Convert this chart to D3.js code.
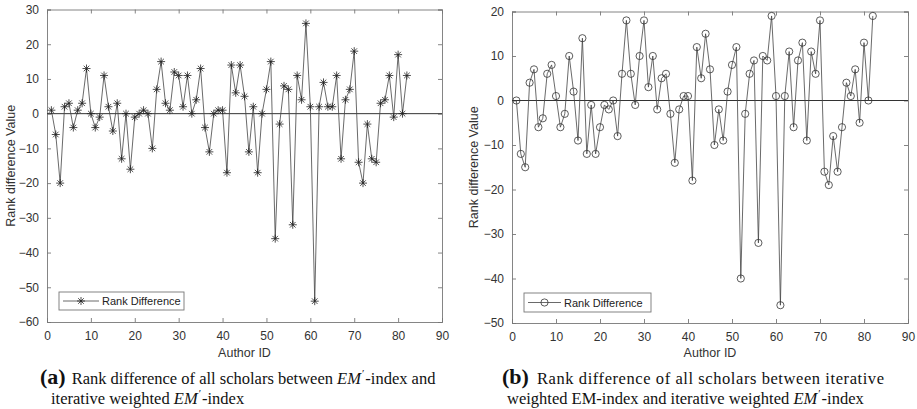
<!DOCTYPE html>
<html>
<head>
<meta charset="utf-8">
<script src="https://cdnjs.cloudflare.com/ajax/libs/d3/7.8.5/d3.min.js"></script>
<style>
  body { margin: 0; background: #fff; }
  svg { display: block; }
  .tick text { font-family: "Liberation Sans", Arial, sans-serif; font-size: 12px; fill: #333; }
  .cap { font-family: "Liberation Serif", "DejaVu Serif", serif; fill: #111; }
</style>
</head>
<body>
<svg id="chart" width="917" height="409"></svg>
<script>
// rank differences, panel (a): EM'-index vs iterative weighted EM'-index
var diffA = [1, -6, -20, 2, 3, -4, 1, 3, 13, 0,
  -4, -1, 11, 2, -5, 3, -13, 0, -16, -1,
  0, 1, 0, -10, 7, 15, 3, 1, 12, 11,
  2, 11, 0, 4, 13, -4, -11, 0, 1, 1,
  -17, 14, 6, 14, 5, -11, 2, -17, 0, 7,
  15, -36, -3, 8, 7, -32, 11, 4, 26, 2,
  -54, 2, 9, 2, 2, 11, -13, 4, 7, 18,
  -14, -20, -3, -13, -14, 3, 4, 11, -1, 17,
  0, 11];
// panel (b): iterative weighted EM-index vs iterative weighted EM'-index
var diffB = [0, -12, -15, 4, 7, -6, -4, 6, 8, 1,
  -6, -3, 10, 2, -9, 14, -12, -1, -12, -6,
  -1, -2, 0, -8, 6, 18, 6, -1, 10, 18,
  3, 10, -2, 5, 6, -3, -14, -2, 1, 1,
  -18, 12, 5, 15, 7, -10, -2, -9, 2, 8,
  12, -40, -3, 6, 9, -32, 10, 9, 19, 1,
  -46, 1, 11, -6, 9, 13, -9, 11, 6, 18,
  -16, -19, -8, -16, -6, 4, 1, 7, -5, 13,
  0, 19];
var xTicks = [0, 10, 20, 30, 40, 50, 60, 70, 80, 90];
var yTicksA = [30, 20, 10, 0, -10, -20, -30, -40, -50, -60];
var yTicksB = [20, 10, 0, -10, -20, -30, -40, -50];

var svg = d3.select("#chart");

function drawStar(g, cx, cy, s) {
  var d = "M" + (cx - s) + "," + cy + "H" + (cx + s) +
    "M" + cx + "," + (cy - s) + "V" + (cy + s) +
    "M" + (cx - s * 0.7) + "," + (cy - s * 0.7) + "L" + (cx + s * 0.7) + "," + (cy + s * 0.7) +
    "M" + (cx - s * 0.7) + "," + (cy + s * 0.7) + "L" + (cx + s * 0.7) + "," + (cy - s * 0.7);
  g.append("path").attr("d", d).attr("stroke", "#222").attr("stroke-width", 0.8).attr("fill", "none");
}

function drawPanel(p) {
  var x = d3.scaleLinear().domain([0, 90]).range([p.left, p.right]);
  var y = d3.scaleLinear().domain(p.ydom).range([p.bottom, p.top]);
  var g = svg.append("g");

  // axes (ticks inward, box on)
  g.append("g").attr("transform", "translate(0," + p.bottom + ")")
    .call(d3.axisBottom(x).tickValues(xTicks).tickSize(-4).tickPadding(9));
  g.append("g").attr("transform", "translate(0," + p.top + ")")
    .call(d3.axisTop(x).tickValues(xTicks).tickSize(-4).tickFormat(""));
  g.append("g").attr("transform", "translate(" + p.left + ",0)")
    .call(d3.axisLeft(y).tickValues(p.yticks).tickSize(-4).tickPadding(8));
  g.append("g").attr("transform", "translate(" + p.right + ",0)")
    .call(d3.axisRight(y).tickValues(p.yticks).tickSize(-4).tickFormat(""));
  g.selectAll(".domain").attr("stroke", "#777").attr("stroke-width", 0.9);
  g.selectAll(".tick line").attr("stroke", "#777").attr("stroke-width", 0.9);

  // zero line
  g.append("line").attr("x1", x(0)).attr("x2", x(90)).attr("y1", y(0)).attr("y2", y(0))
    .attr("stroke", "#333").attr("stroke-width", 1);

  var line = d3.line().x(function(d, i) { return x(i + 1); }).y(function(d) { return y(d); });
  g.append("path").datum(p.data).attr("d", line)
    .attr("fill", "none").attr("stroke", "#444").attr("stroke-width", 0.8);

  if (p.marker == "star") {
    p.data.forEach(function(d, i) { drawStar(g, x(i + 1), y(d), 4); });
  } else {
    g.selectAll("circle.pt").data(p.data).enter().append("circle")
      .attr("class", "pt")
      .attr("cx", function(d, i) { return x(i + 1); })
      .attr("cy", function(d) { return y(d); })
      .attr("r", 3.6).attr("fill", "none").attr("stroke", "#333").attr("stroke-width", 0.8);
  }

  // labels
  g.append("text").attr("x", (p.left + p.right) / 2).attr("y", 357)
    .attr("text-anchor", "middle")
    .style("font-family", "Liberation Sans, Arial, sans-serif").style("font-size", "12.5px").style("fill", "#333")
    .text("Author ID");
  g.append("text")
    .attr("transform", "translate(" + p.ylabX + "," + ((p.top + p.bottom) / 2) + ") rotate(-90)")
    .attr("text-anchor", "middle")
    .style("font-family", "Liberation Sans, Arial, sans-serif").style("font-size", "12.5px").style("fill", "#333")
    .text("Rank difference Value");

  // legend
  var lg = p.legend;
  g.append("rect").attr("x", lg.x).attr("y", lg.y).attr("width", lg.w).attr("height", lg.h)
    .attr("fill", "#fff").attr("stroke", "#777").attr("stroke-width", 0.9);
  var my = lg.y + lg.h / 2;
  g.append("line").attr("x1", lg.x + 4).attr("x2", lg.x + lg.lineW).attr("y1", my).attr("y2", my)
    .attr("stroke", "#444").attr("stroke-width", 0.8);
  var mx = lg.x + 4 + (lg.lineW - 4) / 2;
  if (p.marker == "star") drawStar(g, mx, my, 4);
  else g.append("circle").attr("cx", mx).attr("cy", my).attr("r", 3.6)
    .attr("fill", "none").attr("stroke", "#333").attr("stroke-width", 0.8);
  g.append("text").attr("x", lg.x + lg.lineW + 3).attr("y", my + 4)
    .style("font-family", "Liberation Sans, Arial, sans-serif").style("font-size", "11px").style("fill", "#222")
    .text("Rank Difference");
}

drawPanel({ data: diffA, left: 47, right: 442, top: 9.5, bottom: 322, ydom: [-60, 30], yticks: yTicksA,
  marker: "star", ylabX: 15, legend: { x: 59, y: 292, w: 125, h: 18, lineW: 40 } });
drawPanel({ data: diffB, left: 512, right: 908, top: 11.5, bottom: 323, ydom: [-50, 20], yticks: yTicksB,
  marker: "circle", ylabX: 478, legend: { x: 524, y: 293, w: 127, h: 19, lineW: 37 } });

// captions: EM' written as italic EM with a raised prime, then the rest brought back down
function emPrime(t, rest) {
  t.append("tspan").style("font-style", "italic").text("EM");
  t.append("tspan").attr("dx", 1).attr("dy", -7).style("font-size", "11px").text("\u2032");
  t.append("tspan").attr("dx", 1).attr("dy", 7).text(rest);
}
var c1 = svg.append("text").attr("class", "cap").attr("x", 40).attr("y", 384).style("font-size", "16.5px");
c1.append("tspan").style("font-weight", "bold").style("font-size", "22px").text("(a)");
c1.append("tspan").attr("dx", 6).text("Rank difference of all scholars between ");
emPrime(c1, "-index and");
var c2 = svg.append("text").attr("class", "cap").attr("x", 51).attr("y", 404).style("font-size", "16.5px");
c2.append("tspan").text("iterative weighted ");
emPrime(c2, "-index");

svg.append("text").attr("class", "cap").attr("x", 502).attr("y", 384)
  .style("font-size", "22px").style("font-weight", "bold").text("(b)");
svg.append("text").attr("class", "cap").attr("x", 537).attr("y", 384).style("font-size", "16.5px")
  .attr("textLength", 347).attr("lengthAdjust", "spacing")
  .text("Rank difference of all scholars between iterative");
var c4 = svg.append("text").attr("class", "cap").attr("x", 507).attr("y", 404).style("font-size", "16.5px");
c4.append("tspan").text("weighted EM-index and iterative weighted ");
emPrime(c4, "-index");
</script>
</body>
</html>
